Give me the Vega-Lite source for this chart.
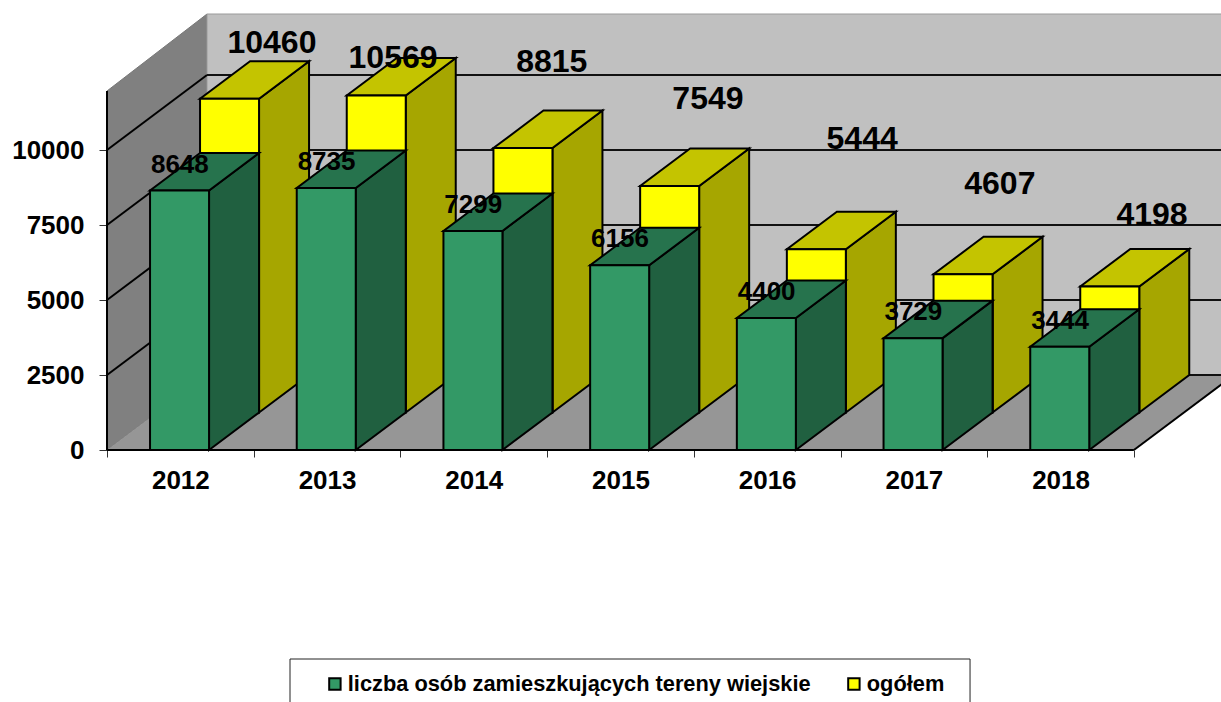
{"$schema":"https://vega.github.io/schema/vega-lite/v6.json","width":1114,"height":450,"padding":{"left":107,"top":0,"right":0,"bottom":252},"autosize":"none","background":"white","config":{"view":{"stroke":null},"font":"Liberation Sans","text":{"font":"Liberation Sans"}},
"datasets":{"bars":[
{"year":2012,"series":"liczba osób zamieszkujących tereny wiejskie","value":8648},{"year":2013,"series":"liczba osób zamieszkujących tereny wiejskie","value":8735},{"year":2014,"series":"liczba osób zamieszkujących tereny wiejskie","value":7299},{"year":2015,"series":"liczba osób zamieszkujących tereny wiejskie","value":6156},{"year":2016,"series":"liczba osób zamieszkujących tereny wiejskie","value":4400},{"year":2017,"series":"liczba osób zamieszkujących tereny wiejskie","value":3729},{"year":2018,"series":"liczba osób zamieszkujących tereny wiejskie","value":3444},
{"year":2012,"series":"ogółem","value":10460},{"year":2013,"series":"ogółem","value":10569},{"year":2014,"series":"ogółem","value":8815},{"year":2015,"series":"ogółem","value":7549},{"year":2016,"series":"ogółem","value":5444},{"year":2017,"series":"ogółem","value":4607},{"year":2018,"series":"ogółem","value":4198}],
"backWall":[{"a":2012.18166,"b":2019.1,"lo":2500,"hi":14533}],
"leftWall":[{"a":2011.5,"lo":0,"hi":11967},{"a":2012.18166,"lo":2500,"hi":14533}],
"floor":[{"lo":0,"a":2011.5,"b":2018.5},{"lo":2500,"a":2012.18166,"b":2019.18166}],
"grid":[{"v":0},{"v":2500},{"v":5000},{"v":7500},{"v":10000}],
"box":[{"a":2012.7475,"b":2017.383,"lo":-6967,"hi":-8800}]},
"layer":[
{"data":{"name":"leftWall"},"mark":{"type":"area","orient":"vertical","fill":"#808080","stroke":"#777777","strokeWidth":1},"encoding":{"x":{"field":"a","type":"quantitative","scale":{"domain":[2011.5,2019.0937],"nice":false,"zero":false},"axis":{"values":[2011.5,2012.5,2013.5,2014.5,2015.5,2016.5,2017.5,2018.5],"labelExpr":"datum.value<2018?format(datum.value+0.5,'d'):''","labelOffset":73.35,"labelOverlap":false,"labelBound":false,"labelFlush":false,"labelFontSize":26,"labelFontWeight":"bold","labelColor":"black","labelFont":"Liberation Sans","labelPadding":10,"tickSize":7,"tickColor":"#333333","domain":false,"grid":false,"title":null}},"y":{"field":"lo","type":"quantitative","stack":null,"scale":{"domain":[0,15000],"nice":false,"zero":false},"axis":{"values":[0,2500,5000,7500,10000],"labelFontSize":26,"labelFontWeight":"bold","labelColor":"black","labelFont":"Liberation Sans","labelPadding":15,"tickSize":8,"tickColor":"#333333","domain":false,"grid":false,"title":null,"format":"d","labelOverlap":false,"labelBound":false,"labelFlush":false}},"y2":{"field":"hi"}}},
{"data":{"name":"backWall"},"mark":{"type":"rect","fill":"#c0c0c0","stroke":"#9a9a9a","strokeWidth":1},"encoding":{"x":{"field":"a","type":"quantitative","scale":{"domain":[2011.5,2019.0937],"nice":false,"zero":false}},"x2":{"field":"b"},"y":{"field":"lo","type":"quantitative","scale":{"domain":[0,15000],"nice":false,"zero":false}},"y2":{"field":"hi"}}},
{"data":{"name":"floor"},"mark":{"type":"area","orient":"horizontal","fill":"#969696"},"encoding":{"y":{"field":"lo","type":"quantitative","stack":null,"scale":{"domain":[0,15000],"nice":false,"zero":false}},"x":{"field":"a","type":"quantitative","scale":{"domain":[2011.5,2019.0937],"nice":false,"zero":false}},"x2":{"field":"b"}}},
{"data":{"name":"grid"},"transform":[{"filter":"datum.v>0"},{"calculate":"datum.v+2500","as":"back"},{"calculate":"2011.5","as":"a"},{"calculate":"2012.18166","as":"b"}],"mark":{"type":"rule","stroke":"black","strokeWidth":2},"encoding":{"x":{"field":"a","type":"quantitative","scale":{"domain":[2011.5,2019.0937],"nice":false,"zero":false}},"x2":{"field":"b"},"y":{"field":"v","type":"quantitative","scale":{"domain":[0,15000],"nice":false,"zero":false}},"y2":{"field":"back"}}},
{"data":{"name":"grid"},"transform":[{"calculate":"datum.v+2500","as":"back"},{"calculate":"2012.18166","as":"b"},{"calculate":"2019.1","as":"c"}],"mark":{"type":"rule","stroke":"#111111","strokeWidth":2},"encoding":{"x":{"field":"b","type":"quantitative","scale":{"domain":[2011.5,2019.0937],"nice":false,"zero":false}},"x2":{"field":"c"},"y":{"field":"back","type":"quantitative","scale":{"domain":[0,15000],"nice":false,"zero":false}}}},
{"data":{"values":[{"a":2011.5,"b":2018.5,"lo":0}]},"mark":{"type":"rule","stroke":"black","strokeWidth":2},"encoding":{"x":{"field":"a","type":"quantitative","scale":{"domain":[2011.5,2019.0937],"nice":false,"zero":false}},"x2":{"field":"b"},"y":{"field":"lo","type":"quantitative","scale":{"domain":[0,15000],"nice":false,"zero":false}}}},
{"data":{"values":[{"a":2018.5,"b":2019.18166,"lo":0,"hi":2500}]},"mark":{"type":"rule","stroke":"black","strokeWidth":2},"encoding":{"x":{"field":"a","type":"quantitative","scale":{"domain":[2011.5,2019.0937],"nice":false,"zero":false}},"x2":{"field":"b"},"y":{"field":"lo","type":"quantitative","scale":{"domain":[0,15000],"nice":false,"zero":false}},"y2":{"field":"hi"}}},
{"data":{"values":[{"a":2011.5,"lo":0,"hi":11967}]},"mark":{"type":"rule","stroke":"black","strokeWidth":2},"encoding":{"x":{"field":"a","type":"quantitative","scale":{"domain":[2011.5,2019.0937],"nice":false,"zero":false}},"y":{"field":"lo","type":"quantitative","scale":{"domain":[0,15000],"nice":false,"zero":false}},"y2":{"field":"hi"}}},
{"data":{"name":"box"},"mark":{"type":"rect","fill":"white","stroke":"#222222","strokeWidth":1},"encoding":{"x":{"field":"a","type":"quantitative","scale":{"domain":[2011.5,2019.0937],"nice":false,"zero":false}},"x2":{"field":"b"},"y":{"field":"lo","type":"quantitative","scale":{"domain":[0,15000],"nice":false,"zero":false}},"y2":{"field":"hi"}}},

{"data":{"name":"bars"},"transform":[{"filter":"datum.series=='ogółem'"},{"calculate":"datum.year+0.1956+0.34083","as":"xa"},{"calculate":"datum.year+0.1956+0.68166","as":"xb"},{"fold":["xa","xb"],"as":["corner","px"]},{"calculate":"datum.corner=='xa'?1250:2500","as":"lo"},{"calculate":"datum.value+datum.lo","as":"hi"}],"mark":{"type":"area","orient":"vertical","fill":"#a6a600","stroke":"black","strokeWidth":2},"encoding":{"detail":{"field":"year"},"x":{"field":"px","type":"quantitative","scale":{"domain":[2011.5,2019.0937],"nice":false,"zero":false}},"y":{"field":"lo","type":"quantitative","stack":null,"scale":{"domain":[0,15000],"nice":false,"zero":false}},"y2":{"field":"hi"}}},
{"data":{"name":"bars"},"transform":[{"filter":"datum.series=='ogółem'"},{"calculate":"datum.value+1250","as":"ya"},{"calculate":"datum.value+2500","as":"yb"},{"fold":["ya","yb"],"as":["corner","py"]},{"calculate":"datum.year-0.2066+(datum.corner=='ya'?0.34083:0.68166)","as":"l"},{"calculate":"datum.year+0.1956+(datum.corner=='ya'?0.34083:0.68166)","as":"r"}],"mark":{"type":"area","orient":"horizontal","fill":"#c4c400","stroke":"black","strokeWidth":2},"encoding":{"detail":{"field":"year"},"y":{"field":"py","type":"quantitative","stack":null,"scale":{"domain":[0,15000],"nice":false,"zero":false}},"x":{"field":"l","type":"quantitative","scale":{"domain":[2011.5,2019.0937],"nice":false,"zero":false}},"x2":{"field":"r"}}},
{"data":{"name":"bars"},"transform":[{"filter":"datum.series=='ogółem'"},{"calculate":"datum.year-0.2066+0.34083","as":"l"},{"calculate":"datum.year+0.1956+0.34083","as":"r"},{"calculate":"1250","as":"lo"},{"calculate":"datum.value+1250","as":"hi"}],"mark":{"type":"rect","stroke":"black","strokeWidth":2},"encoding":{"x":{"field":"l","type":"quantitative","scale":{"domain":[2011.5,2019.0937],"nice":false,"zero":false}},"x2":{"field":"r"},"y":{"field":"lo","type":"quantitative","scale":{"domain":[0,15000],"nice":false,"zero":false}},"y2":{"field":"hi"},"color":{"field":"series","type":"nominal","scale":{"domain":["liczba osób zamieszkujących tereny wiejskie","ogółem"],"range":["#339966","#ffff00"]},"legend":{"title":null,"orient":"none","legendX":217,"legendY":673,"direction":"horizontal","columns":2,"symbolType":"square","symbolSize":130,"symbolStrokeColor":"black","symbolStrokeWidth":2,"symbolOpacity":1,"labelFontSize":21.8,"labelFontWeight":"bold","labelColor":"black","labelFont":"Liberation Sans","labelLimit":600,"columnPadding":32,"labelOffset":2,"padding":0}}}},

{"data":{"name":"bars"},"transform":[{"filter":"datum.series!='ogółem'"},{"calculate":"datum.year+0.1956","as":"xa"},{"calculate":"datum.year+0.1956+0.34083","as":"xb"},{"fold":["xa","xb"],"as":["corner","px"]},{"calculate":"datum.corner=='xa'?0:1250","as":"lo"},{"calculate":"datum.value+datum.lo","as":"hi"}],"mark":{"type":"area","orient":"vertical","fill":"#206040","stroke":"black","strokeWidth":2},"encoding":{"detail":{"field":"year"},"x":{"field":"px","type":"quantitative","scale":{"domain":[2011.5,2019.0937],"nice":false,"zero":false}},"y":{"field":"lo","type":"quantitative","stack":null,"scale":{"domain":[0,15000],"nice":false,"zero":false}},"y2":{"field":"hi"}}},
{"data":{"name":"bars"},"transform":[{"filter":"datum.series!='ogółem'"},{"calculate":"datum.value","as":"ya"},{"calculate":"datum.value+1250","as":"yb"},{"fold":["ya","yb"],"as":["corner","py"]},{"calculate":"datum.year-0.2066+(datum.corner=='ya'?0:0.34083)","as":"l"},{"calculate":"datum.year+0.1956+(datum.corner=='ya'?0:0.34083)","as":"r"}],"mark":{"type":"area","orient":"horizontal","fill":"#26734d","stroke":"black","strokeWidth":2},"encoding":{"detail":{"field":"year"},"y":{"field":"py","type":"quantitative","stack":null,"scale":{"domain":[0,15000],"nice":false,"zero":false}},"x":{"field":"l","type":"quantitative","scale":{"domain":[2011.5,2019.0937],"nice":false,"zero":false}},"x2":{"field":"r"}}},
{"data":{"name":"bars"},"transform":[{"filter":"datum.series!='ogółem'"},{"calculate":"datum.year-0.2066","as":"l"},{"calculate":"datum.year+0.1956","as":"r"},{"calculate":"0","as":"lo"}],"mark":{"type":"rect","stroke":"black","strokeWidth":2},"encoding":{"x":{"field":"l","type":"quantitative","scale":{"domain":[2011.5,2019.0937],"nice":false,"zero":false}},"x2":{"field":"r"},"y":{"field":"lo","type":"quantitative","scale":{"domain":[0,15000],"nice":false,"zero":false}},"y2":{"field":"value"},"color":{"field":"series","type":"nominal","scale":{"domain":["liczba osób zamieszkujących tereny wiejskie","ogółem"],"range":["#339966","#ffff00"]}}}},

{"data":{"name":"bars"},"transform":[{"filter":"datum.series!='ogółem'"}],"mark":{"type":"text","font":"Liberation Sans","fontWeight":"bold","fontSize":26,"color":"black","baseline":"middle","dx":-0.5,"dy":-26},"encoding":{"x":{"field":"year","type":"quantitative","scale":{"domain":[2011.5,2019.0937],"nice":false,"zero":false}},"y":{"field":"value","type":"quantitative","scale":{"domain":[0,15000],"nice":false,"zero":false}},"text":{"field":"value","type":"quantitative","format":"d"}}},

{"data":{"name":"bars"},"transform":[{"filter":"datum.series=='ogółem'&&datum.year==2012"}],"mark":{"type":"text","font":"Liberation Sans","fontWeight":"bold","fontSize":32,"color":"black","baseline":"middle","dx":91.6,"dy":-93},"encoding":{"x":{"field":"year","type":"quantitative","scale":{"domain":[2011.5,2019.0937],"nice":false,"zero":false}},"y":{"field":"value","type":"quantitative","scale":{"domain":[0,15000],"nice":false,"zero":false}},"text":{"field":"value","type":"quantitative","format":"d"}}},
{"data":{"name":"bars"},"transform":[{"filter":"datum.series=='ogółem'&&datum.year==2013"}],"mark":{"type":"text","font":"Liberation Sans","fontWeight":"bold","fontSize":32,"color":"black","baseline":"middle","dx":66,"dy":-75},"encoding":{"x":{"field":"year","type":"quantitative","scale":{"domain":[2011.5,2019.0937],"nice":false,"zero":false}},"y":{"field":"value","type":"quantitative","scale":{"domain":[0,15000],"nice":false,"zero":false}},"text":{"field":"value","type":"quantitative","format":"d"}}},
{"data":{"name":"bars"},"transform":[{"filter":"datum.series=='ogółem'&&datum.year==2014"}],"mark":{"type":"text","font":"Liberation Sans","fontWeight":"bold","fontSize":32,"color":"black","baseline":"middle","dx":78,"dy":-123.5},"encoding":{"x":{"field":"year","type":"quantitative","scale":{"domain":[2011.5,2019.0937],"nice":false,"zero":false}},"y":{"field":"value","type":"quantitative","scale":{"domain":[0,15000],"nice":false,"zero":false}},"text":{"field":"value","type":"quantitative","format":"d"}}},
{"data":{"name":"bars"},"transform":[{"filter":"datum.series=='ogółem'&&datum.year==2015"}],"mark":{"type":"text","font":"Liberation Sans","fontWeight":"bold","fontSize":32,"color":"black","baseline":"middle","dx":87.5,"dy":-124.5},"encoding":{"x":{"field":"year","type":"quantitative","scale":{"domain":[2011.5,2019.0937],"nice":false,"zero":false}},"y":{"field":"value","type":"quantitative","scale":{"domain":[0,15000],"nice":false,"zero":false}},"text":{"field":"value","type":"quantitative","format":"d"}}},
{"data":{"name":"bars"},"transform":[{"filter":"datum.series=='ogółem'&&datum.year==2016"}],"mark":{"type":"text","font":"Liberation Sans","fontWeight":"bold","fontSize":32,"color":"black","baseline":"middle","dx":95,"dy":-147.7},"encoding":{"x":{"field":"year","type":"quantitative","scale":{"domain":[2011.5,2019.0937],"nice":false,"zero":false}},"y":{"field":"value","type":"quantitative","scale":{"domain":[0,15000],"nice":false,"zero":false}},"text":{"field":"value","type":"quantitative","format":"d"}}},
{"data":{"name":"bars"},"transform":[{"filter":"datum.series=='ogółem'&&datum.year==2017"}],"mark":{"type":"text","font":"Liberation Sans","fontWeight":"bold","fontSize":32,"color":"black","baseline":"middle","dx":86,"dy":-128},"encoding":{"x":{"field":"year","type":"quantitative","scale":{"domain":[2011.5,2019.0937],"nice":false,"zero":false}},"y":{"field":"value","type":"quantitative","scale":{"domain":[0,15000],"nice":false,"zero":false}},"text":{"field":"value","type":"quantitative","format":"d"}}},
{"data":{"name":"bars"},"transform":[{"filter":"datum.series=='ogółem'&&datum.year==2018"}],"mark":{"type":"text","font":"Liberation Sans","fontWeight":"bold","fontSize":32,"color":"black","baseline":"middle","dx":91.5,"dy":-109},"encoding":{"x":{"field":"year","type":"quantitative","scale":{"domain":[2011.5,2019.0937],"nice":false,"zero":false}},"y":{"field":"value","type":"quantitative","scale":{"domain":[0,15000],"nice":false,"zero":false}},"text":{"field":"value","type":"quantitative","format":"d"}}}
]}
